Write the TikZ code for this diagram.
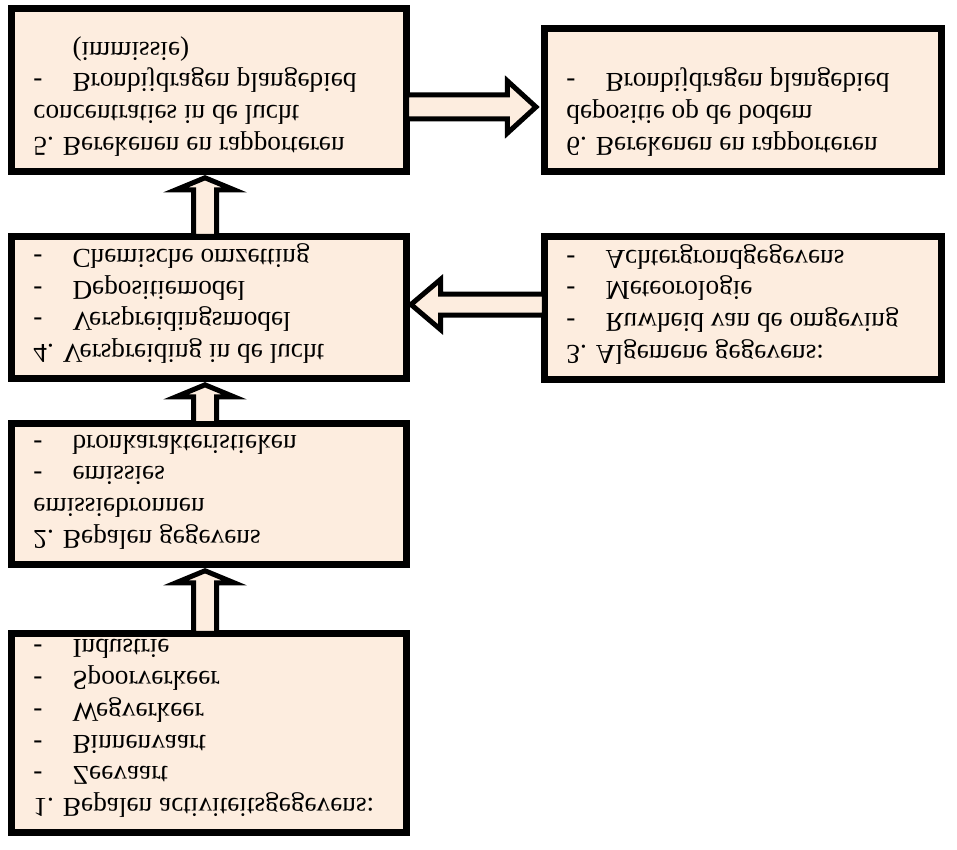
\documentclass[tikz,border=0pt]{standalone}
\usepackage{fontspec}
\setmainfont{Liberation Serif}
\usetikzlibrary{calc}
\definecolor{perzik}{RGB}{253,237,223}
\newcommand{\streep}{\makebox[17.2pt][l]{-}}

\begin{document}
\begin{tikzpicture}[x=0.44pt,y=0.44pt,
    vak/.style={draw, line width=3.08pt, fill=perzik, outer sep=0pt, inner sep=0pt},
    tekst/.style={yscale=-1, anchor=north west, inner sep=0pt, align=left, font=\fontsize{12}{14}\selectfont},
    pijl/.style={draw, line width=2.2pt, fill=perzik, line join=miter}]
            \useasboundingbox (0,0) rectangle (957,849);

            % Vakken
            \node[vak, minimum width=173.8pt, minimum height=87.6pt] (b1) at (209,116) {};
            \node[vak, minimum width=173.8pt, minimum height=62.0pt] (b2) at (209,355) {};
            \node[vak, minimum width=174.7pt, minimum height=62.9pt] (b3) at (743,541) {};
            \node[vak, minimum width=173.8pt, minimum height=62.5pt] (b4) at (209,541.5) {};
            \node[vak, minimum width=173.8pt, minimum height=71.7pt] (b5) at (209,759) {};
            \node[vak, minimum width=174.7pt, minimum height=62.9pt] (b6) at (743,749) {};

            % Teksten (gespiegeld)
            \node[tekst] (t1) at ($(b1.south west)+(21.5,14.5)$) {1. Bepalen activiteitsgegevens:\\\streep Zeevaart\\\streep Binnenvaart\\\streep Wegverkeer\\\streep Spoorverkeer\\\streep Industrie};
            \node[tekst] (t2) at ($(b2.south west)+(21.5,14.5)$) {2. Bepalen gegevens\\emissiebronnen\\\streep emissies\\\streep bronkarakteristieken};
            \node[tekst] (t3) at ($(b3.south west)+(21.5,14.5)$) {3. Algemene gegevens:\\\streep Ruwheid van de omgeving\\\streep Meteorologie\\\streep Achtergrondgegevens};
            \node[tekst] (t4) at ($(b4.south west)+(21.5,14.5)$) {4. Verspreiding in de lucht\\\streep Verspreidingsmodel\\\streep Depositiemodel\\\streep Chemische omzetting};
            \node[tekst] (t5) at ($(b5.south west)+(21.5,14.5)$) {5. Berekenen en rapporteren\\concentraties in de lucht\\\streep Bronbijdragen plangebied\\\hspace*{17.2pt}(immissie)};
            \node[tekst] (t6) at ($(b6.south west)+(21.5,14.5)$) {6. Berekenen en rapporteren\\depositie op de bodem\\\streep Bronbijdragen plangebied};

            % Pijlen
            \coordinate (p12) at ($(b2.south)+(-4,-6.3)$);
            \draw[pijl] ($(p12 |- b1.north)+(-11.5,0)$) -- ($(p12)+(-11.5,-12)$) -- ($(p12)+(-29,-12)$) -- (p12) -- ($(p12)+(29,-12)$) -- ($(p12)+(11.5,-12)$) -- ($(p12 |- b1.north)+(11.5,0)$) -- cycle;
            \coordinate (p24) at ($(b4.south)+(-4,-6.3)$);
            \draw[pijl] ($(p24 |- b2.north)+(-11.5,0)$) -- ($(p24)+(-11.5,-12)$) -- ($(p24)+(-29,-12)$) -- (p24) -- ($(p24)+(29,-12)$) -- ($(p24)+(11.5,-12)$) -- ($(p24 |- b2.north)+(11.5,0)$) -- cycle;
            \coordinate (p45) at ($(b5.south)+(-4,-6.3)$);
            \draw[pijl] ($(p45 |- b4.north)+(-11.5,0)$) -- ($(p45)+(-11.5,-12)$) -- ($(p45)+(-29,-12)$) -- (p45) -- ($(p45)+(29,-12)$) -- ($(p45)+(11.5,-12)$) -- ($(p45 |- b4.north)+(11.5,0)$) -- cycle;
            \coordinate (p34) at ($(b4.east)+(4.5,3)$);
            \draw[pijl] ($(b3.west |- p34)+(0,10.5)$) -- ($(p34)+(29.5,10.5)$) -- ($(p34)+(29.5,25)$) -- (p34) -- ($(p34)+(29.5,-25)$) -- ($(p34)+(29.5,-10.5)$) -- ($(b3.west |- p34)+(0,-10.5)$) -- cycle;
            \coordinate (p56) at ($(b6.west)+(-8.5,-7)$);
            \draw[pijl] ($(b5.east |- p56)+(0,12)$) -- ($(p56)+(-28.5,12)$) -- ($(p56)+(-28.5,26)$) -- (p56) -- ($(p56)+(-28.5,-26)$) -- ($(p56)+(-28.5,-12)$) -- ($(b5.east |- p56)+(0,-12)$) -- cycle;
\end{tikzpicture}
\end{document}
